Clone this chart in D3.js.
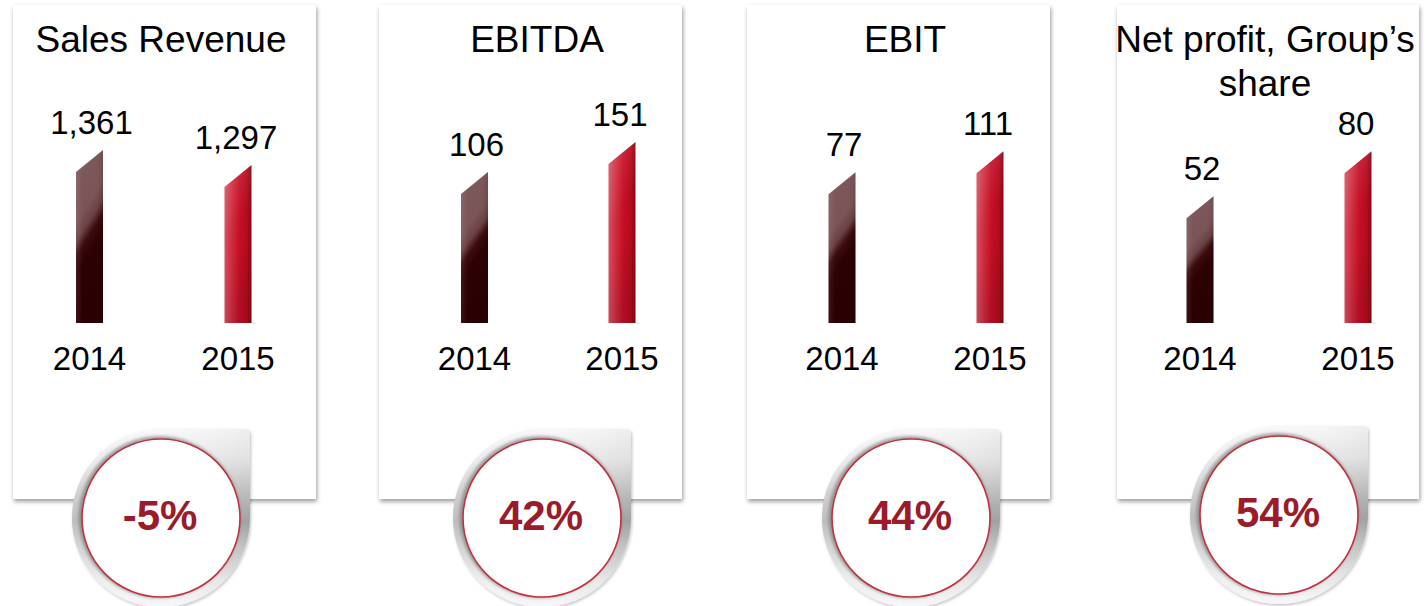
<!DOCTYPE html>
<html>
<head>
<meta charset="utf-8">
<script src="https://cdn.jsdelivr.net/npm/d3@7/dist/d3.min.js"></script>
<style>
  html, body { margin: 0; padding: 0; background: #ffffff; }
  svg { display: block; }
  text { font-family: "Liberation Sans", Arial, Helvetica, sans-serif; }
</style>
</head>
<body>
<svg id="chart" width="1426" height="606"></svg>
<script>
// ---- data ----
const titles = [["Sales Revenue"], ["EBITDA"], ["EBIT"], ["Net profit, Group’s", "share"]];
const years = ["2014", "2015"];
const values2014 = [1361, 106, 77, 52];
const values2015 = [1297, 151, 111, 80];
const changes = ["-5%", "42%", "44%", "54%"];
// value-axis extents of each panel (axes do not start at zero)
const axisMin = [622, -120, -167, -27];
const axisMax = [1404, 154, 129, 87];

// ---- layout ----
const layout = [
  { x: 13,   w: 303, titleX: 161,  bars: [89.5, 238],  cx: 161,  cy: 518 },
  { x: 379,  w: 303, titleX: 537,  bars: [474.5, 622], cx: 542,  cy: 518 },
  { x: 747,  w: 303, titleX: 905,  bars: [842, 990],   cx: 911,  cy: 518 },
  { x: 1117, w: 302, titleX: 1265, bars: [1200, 1358], cx: 1279, cy: 515 }
];
const cardTop = 5, cardBottom = 499;
const base = 323, plotTop = 140;
const barW = 27, slant = 22;
const fmt = d3.format(",");

const svg = d3.select("#chart");
const defs = svg.append("defs");

// card shadow
const fs = defs.append("filter").attr("id", "cardShadow")
  .attr("x", "-5%").attr("y", "-5%").attr("width", "115%").attr("height", "115%");
fs.append("feDropShadow").attr("dx", 1).attr("dy", 2.5).attr("stdDeviation", 2.2)
  .attr("flood-color", "#000").attr("flood-opacity", 0.4);

const ts = defs.append("filter").attr("id", "dropShadow")
  .attr("x", "-10%").attr("y", "-10%").attr("width", "125%").attr("height", "125%");
ts.append("feDropShadow").attr("dx", 1).attr("dy", 1.5).attr("stdDeviation", 1.6)
  .attr("flood-color", "#000").attr("flood-opacity", 0.25);

const blur = defs.append("filter").attr("id", "softBlur")
  .attr("x", "-10%").attr("y", "-10%").attr("width", "120%").attr("height", "120%");
blur.append("feGaussianBlur").attr("stdDeviation", 1.8);

// bar gradients
const g14 = defs.append("linearGradient").attr("id", "bar2014")
  .attr("x1", 0).attr("y1", 0).attr("x2", 0.25).attr("y2", 1);
[[0, "#805c5f"], [0.4, "#7a5457"], [0.5, "#6a4245"], [0.58, "#3c0b0d"], [0.68, "#2d0204"], [1, "#2a0002"]]
  .forEach(s => g14.append("stop").attr("offset", s[0]).attr("stop-color", s[1]));
const g14h = defs.append("linearGradient").attr("id", "bar2014h")
  .attr("x1", 0).attr("y1", 0).attr("x2", 1).attr("y2", 0);
[[0, "#ffffff", 0.08], [0.25, "#ffffff", 0.0], [0.8, "#000000", 0.0], [1, "#000000", 0.1]]
  .forEach(s => g14h.append("stop").attr("offset", s[0]).attr("stop-color", s[1]).attr("stop-opacity", s[2]));

const g15 = defs.append("linearGradient").attr("id", "bar2015")
  .attr("x1", 0).attr("y1", 0).attr("x2", 1).attr("y2", 0);
[[0, "#d5505f"], [0.28, "#cf2a3e"], [0.55, "#c50f25"], [0.82, "#b70b1f"], [1, "#870914"]]
  .forEach(s => g15.append("stop").attr("offset", s[0]).attr("stop-color", s[1]));

const g15v = defs.append("linearGradient").attr("id", "bar2015v")
  .attr("x1", 0).attr("y1", 0).attr("x2", 0.3).attr("y2", 1);
[[0, "#ffffff", 0.16], [0.35, "#ffffff", 0.04], [0.6, "#000000", 0.0], [1, "#000000", 0.1]]
  .forEach(s => g15v.append("stop").attr("offset", s[0]).attr("stop-color", s[1]).attr("stop-opacity", s[2]));

// silver teardrop gradient
const gs = defs.append("linearGradient").attr("id", "silver")
  .attr("x1", 0).attr("y1", 0).attr("x2", 0).attr("y2", 1);
[[0, "#f8f8f8"], [0.18, "#e8e8e8"], [0.42, "#b8b8b8"], [0.52, "#a8a8a8"], [0.66, "#c8c8c8"], [0.85, "#ebebeb"], [1, "#f7f7f7"]]
  .forEach(s => gs.append("stop").attr("offset", s[0]).attr("stop-color", s[1]));
const gsh = defs.append("linearGradient").attr("id", "silverH")
  .attr("x1", 0).attr("y1", 0).attr("x2", 1).attr("y2", 0);
[[0, "#ffffff", 0.25], [0.5, "#ffffff", 0.0], [1, "#000000", 0.04]]
  .forEach(s => gsh.append("stop").attr("offset", s[0]).attr("stop-color", s[1]).attr("stop-opacity", s[2]));

const fills = ["url(#bar2014)", "url(#bar2015)"];
const overlays = ["url(#bar2014h)", "url(#bar2015v)"];

titles.forEach((tl, i) => {
  const L = layout[i];
  const g = svg.append("g");

  // card
  g.append("rect")
    .attr("x", L.x).attr("y", cardTop).attr("width", L.w).attr("height", cardBottom - cardTop)
    .attr("fill", "#ffffff").attr("filter", "url(#cardShadow)");

  // title
  tl.forEach((line, j) => {
    g.append("text")
      .attr("x", L.titleX).attr("y", 52 + j * 44)
      .attr("text-anchor", "middle").attr("font-size", 37).attr("fill", "#000")
      .text(line);
  });

  // scales
  const x = d3.scalePoint().domain(years).range(L.bars);
  const y = d3.scaleLinear().domain([axisMin[i], axisMax[i]]).range([base, plotTop]);
  const vals = [values2014[i], values2015[i]];
  const data = years.map((yr, k) => ({ yr, v: vals[k], k }));

  // bars
  data.forEach(d => {
    const x0 = x(d.yr) - barW / 2, x1 = x(d.yr) + barW / 2;
    const yR = y(d.v), yL = yR + slant;
    const p = `M${x0},${yL}L${x1},${yR}L${x1},${base}L${x0},${base}Z`;
    g.append("path").attr("d", p).attr("fill", fills[d.k]);
    g.append("path").attr("d", p).attr("fill", overlays[d.k]);
    // value label
    g.append("text")
      .attr("x", x(d.yr) + (d.k === 0 ? 2 : -2)).attr("y", yR - 16)
      .attr("text-anchor", "middle").attr("font-size", 33).attr("fill", "#000")
      .text(fmt(d.v));
    // year label
    g.append("text")
      .attr("x", x(d.yr)).attr("y", 370)
      .attr("text-anchor", "middle").attr("font-size", 33).attr("fill", "#000")
      .text(d.yr);
  });

  // teardrop badge
  const R = 89, cx = L.cx, cy = L.cy, rc = 5;
  const tear = `M${cx},${cy - R}L${cx + R - rc},${cy - R}Q${cx + R},${cy - R} ${cx + R},${cy - R + rc}` +
               `L${cx + R},${cy}A${R},${R} 0 1 1 ${cx},${cy - R}Z`;
  g.append("path").attr("d", tear).attr("fill", "url(#silver)").attr("filter", "url(#dropShadow)");
  g.append("path").attr("d", tear).attr("fill", "url(#silverH)");
  // inner shadow rim
  g.append("circle").attr("cx", cx - 1.5).attr("cy", cy - 1).attr("r", 81)
    .attr("fill", "#707070").attr("opacity", 0.6).attr("filter", "url(#softBlur)");
  g.append("circle").attr("cx", cx).attr("cy", cy).attr("r", 79)
    .attr("fill", "#ffffff").attr("stroke", "#c3313e").attr("stroke-width", 1.6);

  g.append("text")
    .attr("x", cx - 1).attr("y", cy + 12)
    .attr("text-anchor", "middle").attr("font-size", 42).attr("font-weight", "bold")
    .attr("fill", "#9b1b2a")
    .text(changes[i]);
});
</script>
</body>
</html>
